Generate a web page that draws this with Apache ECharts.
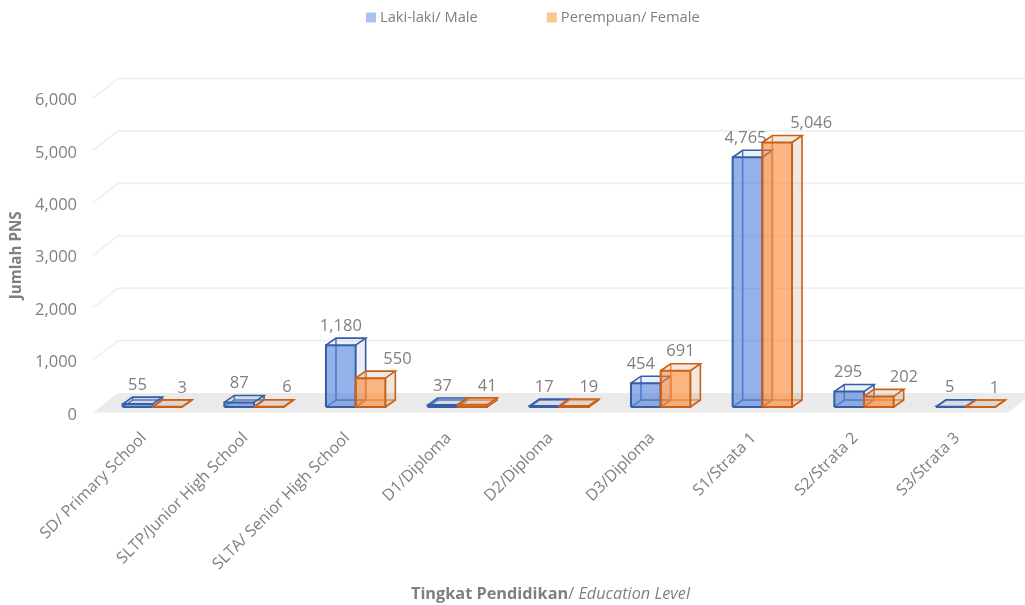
<!DOCTYPE html>
<html>
<head>
<meta charset="utf-8">
<style>html,body{margin:0;padding:0;background:#fff}#c{width:1025px;height:605px}</style>
<script src="https://cdn.jsdelivr.net/npm/echarts@6/dist/echarts.min.js"></script>
</head>
<body>
<div id="c"></div>
<script>
const categories = ['SD/ Primary School','SLTP/Junior High School','SLTA/ Senior High School','D1/Diploma','D2/Diploma','D3/Diploma','S1/Strata 1','S2/Strata 2','S3/Strata 3'];
const maleValues = [55,87,1180,37,17,454,4765,295,5];
const femaleValues = [3,6,550,41,19,691,5046,202,1];
const yTicks = [0,1000,2000,3000,4000,5000,6000];
const maleName = 'Laki-laki/ Male';
const femaleName = 'Perempuan/ Female';

// Layout of the pseudo-3D projection (pixels)
const FONT = '"Open Sans", sans-serif';
const floorDepth = [25,-19.5];
const barFront = [8.5,-5.5];
const barDepth = [10,-7];
const barShare = 0.292;
const maleLabelDx = [0,0,0,0,0,-5,-2,-1,-1];
const femaleLabelDx = [15,18,27,15,15,5,34,25,14];

const maleStyle = {line:'#345EA6', inner:'#4F78C4', front:'rgba(70,120,215,0.58)', pale:'rgba(60,80,150,0.09)'};
const femaleStyle = {line:'#CB5F16', inner:'#E58A45', front:'rgba(252,130,40,0.58)', pale:'rgba(150,75,25,0.13)'};

function barItem(style, side, dxs){
  return function(params, api){
    const i = api.value(0), v = api.value(1);
    const base = api.coord([i,0]);
    const top = api.coord([i,v]);
    const w = api.size([1,0])[0]*barShare;
    const x0 = base[0]+barFront[0]+(side<0?-w:0), x1 = x0+w;
    const yb = base[1]+barFront[1], yt = top[1]+barFront[1];
    const dx = barDepth[0], dy = barDepth[1];
    const poly = (pts,fill)=>({type:'polygon',shape:{points:pts},style:{fill:fill,stroke:'none'}});
    const line = (pts,c,lw)=>({type:'polyline',shape:{points:pts},style:{fill:'none',stroke:c,lineWidth:lw,lineJoin:'miter'}});
    return {type:'group',children:[
      poly([[x1,yb],[x1+dx,yb+dy],[x1+dx,yt+dy],[x1,yt]],style.pale),
      poly([[x0,yt],[x0+dx,yt+dy],[x1+dx,yt+dy],[x1,yt]],style.pale),
      line([[x0,yb],[x0+dx,yb+dy],[x0+dx,yt+dy]],style.inner,1.5),
      line([[x0+dx,yb+dy],[x1+dx,yb+dy]],style.inner,1.5),
      poly([[x0,yb],[x1,yb],[x1,yt],[x0,yt]],style.front),
      line([[x0,yt],[x0+dx,yt+dy],[x1+dx,yt+dy],[x1,yt]],style.line,1.6),
      line([[x1,yb],[x1+dx,yb+dy],[x1+dx,yt+dy]],style.line,1.6),
      line([[x0,yb],[x1,yb],[x1,yt],[x0,yt],[x0,yb]],style.line,2),
      {type:'text',z2:100,style:{text:v.toLocaleString('en-US'),x:(x0+x1)/2+dxs[i],y:yt+dy-12,align:'center',verticalAlign:'middle',fontFamily:FONT,fontSize:16.5,fill:'#7F7F7F'}}
    ]};
  };
}

const chart = echarts.init(document.getElementById('c'),null,{renderer:'canvas'});
chart.setOption({
  animation:false,
  backgroundColor:'#fff',
  textStyle:{fontFamily:FONT},
  grid:{left:93,right:17,top:98,bottom:192.5,outerBoundsMode:'none'},
  legend:{
    top:5,left:361,itemWidth:10,itemHeight:10,itemGap:69,icon:'rect',
    data:[maleName,femaleName],
    textStyle:{color:'#7F7F7F',fontSize:14.7,fontFamily:FONT,padding:[0,0,0,-1]}
  },
  xAxis:{
    type:'category',data:categories,
    axisLine:{show:false},axisTick:{show:false},splitLine:{show:false},
    axisLabel:{rotate:45,color:'#7F7F7F',fontSize:16,fontFamily:FONT,margin:23,interval:0},
    name:'{b|Tingkat Pendidikan}/ {i|Education Level}',
    nameLocation:'middle',nameGap:174,
    nameTextStyle:{color:'#7F7F7F',fontSize:16.3,fontFamily:FONT,rich:{
      b:{fontWeight:'bold',color:'#7F7F7F',fontSize:16.3,fontFamily:FONT},
      i:{fontStyle:'italic',color:'#7F7F7F',fontSize:16.3,fontFamily:FONT}
    }}
  },
  yAxis:{
    type:'value',min:0,max:6000,interval:1000,
    axisLine:{show:false},axisTick:{show:false},splitLine:{show:false},
    axisLabel:{color:'#7F7F7F',fontSize:16.5,fontFamily:FONT,margin:16,verticalAlign:'middle',lineHeight:20,padding:[3,0,0,0],formatter:v=>'{a|'+v.toLocaleString('en-US')+'}',
      rich:{a:{color:'#7F7F7F',fontSize:16.5,fontFamily:FONT,padding:[2,0,0,0]}}},
    name:'Jumlah PNS',nameLocation:'middle',nameGap:68,
    nameTextStyle:{color:'#7F7F7F',fontSize:15.2,fontWeight:'bold',fontFamily:FONT}
  },
  series:[
    {type:'custom',name:'floor',silent:true,z:1,clip:false,data:[[0,0]],encode:{x:0,y:1},legendHoverLink:false,
      renderItem(p,api){
        const half=api.size([1,0])[0]/2;
        const a=api.coord([0,0]), b=api.coord([categories.length-1,0]);
        const l=a[0]-half, r=b[0]+half, y=a[1];
        return {type:'polygon',shape:{points:[[l,y],[l+floorDepth[0],y+floorDepth[1]],[r+floorDepth[0],y+floorDepth[1]],[r,y]]},style:{fill:'#EAEAEA',stroke:'none'}};
      }},
    {type:'custom',name:'grid',silent:true,z:1,clip:false,data:yTicks.filter(t=>t>0).map(t=>[0,t]),encode:{x:0,y:1},
      renderItem(p,api){
        const half=api.size([1,0])[0]/2;
        const a=api.coord([0,api.value(1)]), b=api.coord([categories.length-1,api.value(1)]);
        const l=a[0]-half, r=b[0]+half, y=a[1];
        return {type:'polyline',shape:{points:[[l,y],[l+floorDepth[0],y+floorDepth[1]],[r+floorDepth[0],y+floorDepth[1]]]},style:{fill:'none',stroke:'#EFEFEF',lineWidth:1.6}};
      }},
    {type:'custom',name:maleName,z:2,clip:false,itemStyle:{color:'#A6C3F2',borderColor:'#B5CDF3'},
      data:maleValues.map((v,i)=>[i,v]),encode:{x:0,y:1},renderItem:barItem(maleStyle,-1,maleLabelDx)},
    {type:'custom',name:femaleName,z:3,clip:false,itemStyle:{color:'#FBC78E',borderColor:'#FBD3A6'},
      data:femaleValues.map((v,i)=>[i,v]),encode:{x:0,y:1},renderItem:barItem(femaleStyle,1,femaleLabelDx)}
  ]
});
</script>
</body>
</html>
